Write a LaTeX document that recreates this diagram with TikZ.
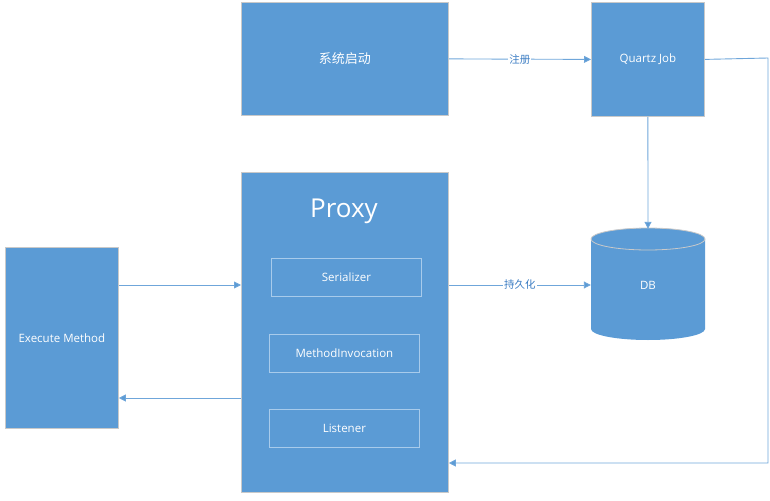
\documentclass[tikz,border=0pt]{standalone}
\usepackage{fontspec}
\setmainfont{Open Sans}
\newfontfamily\cjk{Noto Sans CJK SC}
\usetikzlibrary{arrows.meta}
\definecolor{boxblue}{HTML}{5B9BD5}
\definecolor{boxedge}{HTML}{C9C9C9}
\definecolor{linkblue}{HTML}{6FA6DA}
\definecolor{labelblue}{HTML}{3A7CC3}
\definecolor{inneredge}{HTML}{A8CBEB}
\tikzset{
  bluebox/.style={draw=boxedge, line width=0.8pt, fill=boxblue, text=white, font=\fontsize{11.5}{13}\selectfont, inner sep=0pt, anchor=north west},
  innerbox/.style={draw=inneredge, line width=0.8pt, text=white, font=\fontsize{11.5}{13}\selectfont, minimum width=150pt, minimum height=38pt, inner sep=0pt, anchor=north west},
  link/.style={draw=linkblue, line width=0.9pt, -{Triangle[length=7pt,width=7pt,fill=boxblue]}},
  linklabel/.style={fill=white, text=labelblue, inner sep=1pt, font=\cjk\fontsize{10.5}{12}\selectfont}
}
\begin{document}
\begin{tikzpicture}[x=1pt,y=-1pt]
\useasboundingbox (0,0) rectangle (770,500);
% boxes
\node[bluebox, minimum width=207pt, minimum height=113pt, font=\cjk\fontsize{13}{15}\selectfont] (start) at (241,2) {系统启动};
\node[bluebox, minimum width=113pt, minimum height=114pt] (quartz) at (591,2) {Quartz Job};
\node[bluebox, minimum width=207pt, minimum height=320pt] (proxy) at (241,172) {};
\node[text=white, font=\fontsize{26}{30}\selectfont, inner sep=0pt] (proxytitle) at (344,211) {Proxy};
\node[bluebox, minimum width=113pt, minimum height=181pt] (exec) at (5,247) {Execute Method};
\node[innerbox] (ser) at (271,258) {Serializer};
\node[innerbox] (mi) at (269,334) {MethodInvocation};
\node[innerbox] (lis) at (269,409) {Listener};
% DB cylinder
\fill[boxblue] (591,239) -- (591,329) arc[start angle=180, end angle=360, x radius=57pt, y radius=11pt] -- (705,239) -- cycle;
\fill[boxblue] (648,239) ellipse [x radius=57pt, y radius=11pt];
\draw[boxedge, line width=0.8pt] (648,239) ellipse [x radius=57pt, y radius=11pt];
\node[minimum width=114pt, minimum height=112pt, inner sep=0pt, text=white, font=\fontsize{11.5}{13}\selectfont] (db) at (648,285) {DB};
% connectors
\draw[link] (start.east) -- node[linklabel]{注册} (quartz.west);
\draw[link] (quartz.south) -- (db.north);
\coordinate (r1) at (768,58);
\coordinate (r2) at (768,463);
\draw[link] (quartz.east) -- (r1) -- (r2) -- (proxy.east |- r2);
\draw[link] (exec.east |- 0,285) -- (proxy.west |- 0,285);
\draw[link] (proxy.west |- 0,398) -- (exec.east |- 0,398);
\draw[link] (proxy.east |- 0,285) -- node[linklabel]{持久化} (db.west |- 0,285);
\end{tikzpicture}
\end{document}
